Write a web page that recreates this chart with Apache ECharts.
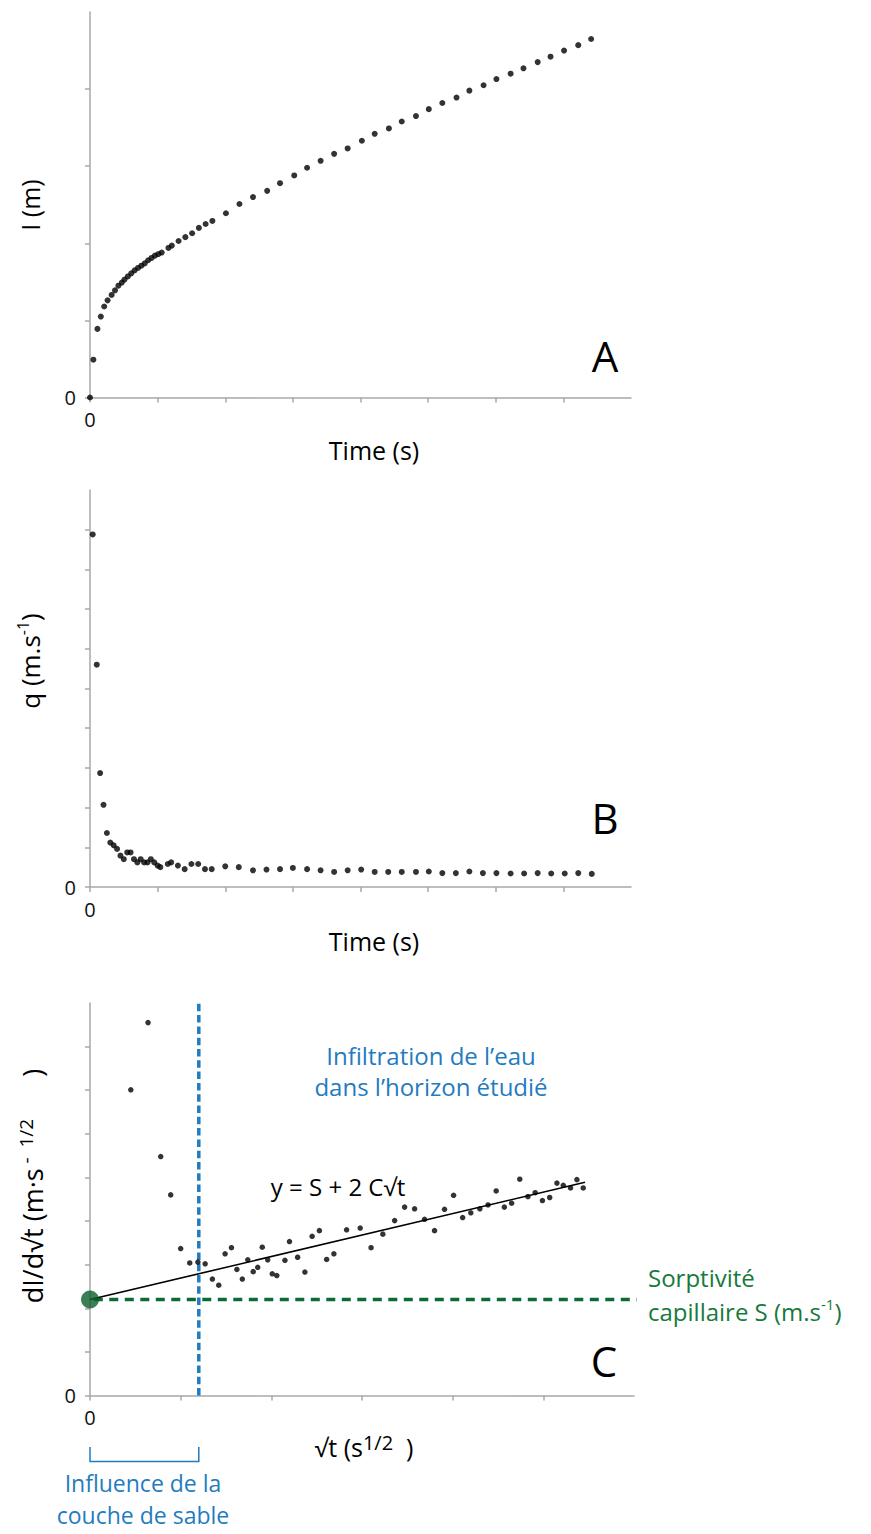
<!DOCTYPE html>
<html><head><meta charset="utf-8">
<script src="https://cdn.jsdelivr.net/npm/echarts@6/dist/echarts.min.js"></script>
<style>html,body{margin:0;padding:0;background:#fff}#c{width:871px;height:1534px}</style>
</head><body><div id="c"></div>
<script>
// ---------- Panel A : cumulative infiltration I vs time ----------
const aTime = [0, 0.05, 0.11, 0.16, 0.21, 0.26, 0.32, 0.37, 0.42, 0.47, 0.51, 0.56, 0.61, 0.66, 0.71, 0.76, 0.81, 0.86, 0.91, 0.96, 1.01, 1.06, 1.16, 1.21, 1.31, 1.41, 1.51, 1.61, 1.71, 1.81, 2.01, 2.21, 2.41, 2.62, 2.81, 3.02, 3.21, 3.41, 3.61, 3.81, 4.02, 4.21, 4.42, 4.61, 4.82, 5.01, 5.21, 5.42, 5.61, 5.82, 6.01, 6.22, 6.41, 6.62, 6.81, 7.01, 7.22, 7.41];
const aInfil = [0, 0.49, 0.89, 1.05, 1.18, 1.26, 1.33, 1.39, 1.45, 1.49, 1.53, 1.57, 1.61, 1.65, 1.68, 1.71, 1.74, 1.78, 1.81, 1.84, 1.86, 1.88, 1.94, 1.97, 2.03, 2.08, 2.13, 2.20, 2.25, 2.29, 2.39, 2.51, 2.60, 2.68, 2.78, 2.88, 2.98, 3.07, 3.16, 3.23, 3.33, 3.42, 3.49, 3.58, 3.65, 3.74, 3.82, 3.89, 3.98, 4.05, 4.13, 4.20, 4.27, 4.35, 4.42, 4.50, 4.57, 4.65];

// ---------- Panel B : flux q vs time ----------
const bTime = [0.04, 0.10, 0.15, 0.20, 0.25, 0.30, 0.35, 0.40, 0.45, 0.50, 0.55, 0.60, 0.65, 0.70, 0.75, 0.80, 0.85, 0.90, 0.95, 1.00, 1.04, 1.15, 1.20, 1.30, 1.40, 1.50, 1.60, 1.70, 1.80, 2.00, 2.20, 2.41, 2.61, 2.81, 3.00, 3.21, 3.41, 3.61, 3.81, 4.01, 4.21, 4.41, 4.61, 4.82, 5.01, 5.21, 5.41, 5.61, 5.81, 6.01, 6.22, 6.42, 6.62, 6.82, 7.02, 7.22, 7.42];
const bFlux = [8.88, 5.60, 2.87, 2.07, 1.36, 1.12, 1.05, 0.96, 0.79, 0.70, 0.87, 0.87, 0.70, 0.62, 0.70, 0.62, 0.62, 0.70, 0.62, 0.54, 0.50, 0.58, 0.62, 0.54, 0.45, 0.58, 0.58, 0.45, 0.45, 0.52, 0.50, 0.42, 0.44, 0.45, 0.48, 0.45, 0.42, 0.38, 0.42, 0.44, 0.38, 0.38, 0.38, 0.38, 0.39, 0.35, 0.35, 0.39, 0.35, 0.35, 0.34, 0.34, 0.35, 0.34, 0.34, 0.35, 0.33];

// ---------- Panel C : dI/d√t vs √t ----------
const cSqrtT = [0.45, 0.64, 0.78, 0.89, 1.00, 1.10, 1.19, 1.27, 1.35, 1.42, 1.49, 1.56, 1.62, 1.68, 1.74, 1.80, 1.85, 1.90, 1.96, 2.01, 2.06, 2.15, 2.20, 2.29, 2.37, 2.45, 2.53, 2.61, 2.69, 2.83, 2.98, 3.10, 3.23, 3.36, 3.47, 3.58, 3.69, 3.80, 3.91, 4.01, 4.11, 4.20, 4.30, 4.39, 4.48, 4.57, 4.65, 4.74, 4.83, 4.91, 4.99, 5.07, 5.15, 5.22, 5.30, 5.37, 5.44];
const cRate = [7.01, 8.55, 5.48, 4.60, 3.37, 3.04, 3.06, 3.02, 2.67, 2.53, 3.25, 3.39, 2.89, 2.67, 3.11, 2.84, 2.94, 3.40, 3.11, 2.79, 2.75, 3.10, 3.53, 3.17, 2.83, 3.65, 3.78, 3.12, 3.25, 3.80, 3.84, 3.39, 3.70, 4.01, 4.32, 4.28, 4.04, 3.78, 4.27, 4.59, 4.08, 4.19, 4.28, 4.37, 4.69, 4.32, 4.41, 4.96, 4.56, 4.65, 4.47, 4.54, 4.87, 4.82, 4.76, 4.95, 4.76];

// fitted line y = S + 2C√t (end points)
const fitSqrtT = [0, 5.46];
const fitRate = [2.2, 4.89];
const sorptivity = 2.2;           // S, intercept (green dashed line / dot)
const sorptivityLineX = [-0.30, 6.03];
const sandLimit = 1.2;            // √t where the sand layer influence ends (blue dashed line)
const sandLineY = [0, 9.07];

// axis ranges and tick labels
const aX = {min: 0, max: 8, interval: 1};
const aY = {min: 0, max: 5, interval: 1};
const bX = {min: 0, max: 8, interval: 1};
const bY = {min: 0, max: 10, interval: 1};
const cX = {min: 0, max: 6, interval: 1};
const cY = {min: 0, max: 9, interval: 1};
const tickLabels = ['0'];

const FONT = '"Open Sans", "Noto Sans", "DejaVu Sans", sans-serif';
const GRAY = '#a8a8a8';
const BLUE = '#1f7cc0';
const GREEN_TXT = '#177a3c';
const GREEN = '#0d6a32';

function zip(xs, ys) { return xs.map((x, i) => [x, ys[i]]); }
function zeroOnly(v) { return v === 0 ? tickLabels[0] : ''; }

function axis(kind, gridIndex, r) {
  return {
    type: 'value', gridIndex, min: r.min, max: r.max, interval: r.interval,
    axisLine: {show: true, onZero: false, lineStyle: {color: GRAY, width: 1.5}},
    axisTick: {show: true, length: 5, lineStyle: {color: GRAY, width: 1.5}},
    splitLine: {show: false},
    axisLabel: {formatter: zeroOnly, fontSize: 20, fontFamily: FONT, color: '#111',
      margin: kind === 'x' ? 12 : 14, showMinLabel: true, showMaxLabel: false}
  };
}

const option = {
  animation: false,
  backgroundColor: '#fff',
  grid: [
    {left: 90, top: 12, width: 541, height: 385.5},
    {left: 90, top: 490, width: 541, height: 397},
    {left: 90, top: 1003, width: 544, height: 392.5}
  ],
  xAxis: [axis('x', 0, aX), axis('x', 1, bX), axis('x', 2, cX)],
  yAxis: [axis('y', 0, aY), axis('y', 1, bY), axis('y', 2, cY)],
  series: [
    {type: 'scatter', xAxisIndex: 0, yAxisIndex: 0, data: zip(aTime, aInfil), symbolSize: 6,
      itemStyle: {color: '#000'}, clip: false},
    {type: 'scatter', xAxisIndex: 1, yAxisIndex: 1, data: zip(bTime, bFlux), symbolSize: 6,
      itemStyle: {color: '#000'}, clip: false},
    {type: 'line', xAxisIndex: 2, yAxisIndex: 2, data: zip(sorptivityLineX, [sorptivity, sorptivity]),
      symbol: 'none', clip: false, silent: true, z: 2,
      lineStyle: {color: GREEN, width: 3.6, type: [9, 6.5]}},
    {type: 'line', xAxisIndex: 2, yAxisIndex: 2, data: zip([sandLimit, sandLimit], sandLineY),
      symbol: 'none', clip: false, silent: true, z: 3,
      lineStyle: {color: BLUE, width: 3.5, type: [7.5, 3.8]}},
    {type: 'line', xAxisIndex: 2, yAxisIndex: 2, data: zip(fitSqrtT, fitRate),
      symbol: 'none', clip: false, silent: true, z: 4,
      lineStyle: {color: '#000', width: 1.6}},
    {type: 'scatter', xAxisIndex: 2, yAxisIndex: 2, data: zip(cSqrtT, cRate), symbolSize: 5.5,
      itemStyle: {color: '#000'}, clip: false, z: 5},
    {type: 'scatter', xAxisIndex: 2, yAxisIndex: 2, data: [[0, sorptivity]], symbolSize: 18,
      itemStyle: {color: '#0b5f2c'}, clip: false, z: 6}
  ]
};

const chart = echarts.init(document.getElementById('c'), null, {renderer: 'svg', width: 871, height: 1534});
chart.setOption(option);

function txt(x, y, text, opts) {
  opts = opts || {};
  return {
    type: 'text', x, y, rotation: opts.rot || 0, z: 10, silent: true,
    style: Object.assign({
      text, fontFamily: FONT, fontSize: 25, fill: '#000',
      align: 'center', verticalAlign: 'middle'
    }, opts.style || {})
  };
}
const richBase = (size, sup, col) => ({
  b: {fontSize: size, fontFamily: FONT, fill: col || '#000', lineHeight: Math.round(size * 1.2)},
  s: {fontSize: sup, fontFamily: FONT, fill: col || '#000', lineHeight: sup + 4, verticalAlign: 'top'}
});

const bx0 = chart.convertToPixel({xAxisIndex: 2}, 0);
const bx1 = chart.convertToPixel({xAxisIndex: 2}, sandLimit);

const graphics = [
  txt(30, 205, 'I (m)', {rot: Math.PI / 2}),
  txt(374, 450, 'Time (s)'),
  txt(605, 355, 'A', {style: {fontSize: 42}}),
  txt(30, 661, '{b|q (m.s}{s|-1}{b|)}', {rot: Math.PI / 2, style: {rich: richBase(26, 16)}}),
  txt(374, 941, 'Time (s)'),
  txt(605, 817, 'B', {style: {fontSize: 42}}),
  txt(32, 1186, '{b|dI/d√t (m·s}{s| -  1/2}{b|      )}', {rot: Math.PI / 2, style: {rich: richBase(27, 19)}}),
  txt(364, 1447, '{b|√t (s}{s|1/2}{b|  )}', {style: {rich: richBase(25, 20)}}),
  txt(604, 1360, 'C', {style: {fontSize: 42}}),
  txt(431, 1055, 'Infiltration de l’eau', {style: {fontSize: 24, fill: BLUE}}),
  txt(431, 1086, 'dans l’horizon étudié', {style: {fontSize: 24, fill: BLUE}}),
  txt(338, 1186, 'y = S + 2 C√t', {style: {fontSize: 24}}),
  txt(648, 1277, 'Sorptivité', {style: {fontSize: 24, fill: GREEN_TXT, align: 'left'}}),
  txt(648, 1311, '{b|capillaire S (m.s}{s|-1}{b|)}', {style: {align: 'left', rich: richBase(24, 15, GREEN_TXT)}}),
  txt(143, 1483, 'Influence de la', {style: {fontSize: 23, fill: BLUE}}),
  txt(143, 1515, 'couche de sable', {style: {fontSize: 23, fill: BLUE}}),
  {type: 'polyline', silent: true, z: 10,
    shape: {points: [[bx0, 1447], [bx0, 1461.5], [bx1, 1461.5], [bx1, 1447]]},
    style: {stroke: BLUE, lineWidth: 1.5, fill: null}}
];
chart.setOption({graphic: {elements: graphics}});
</script>
</body></html>
